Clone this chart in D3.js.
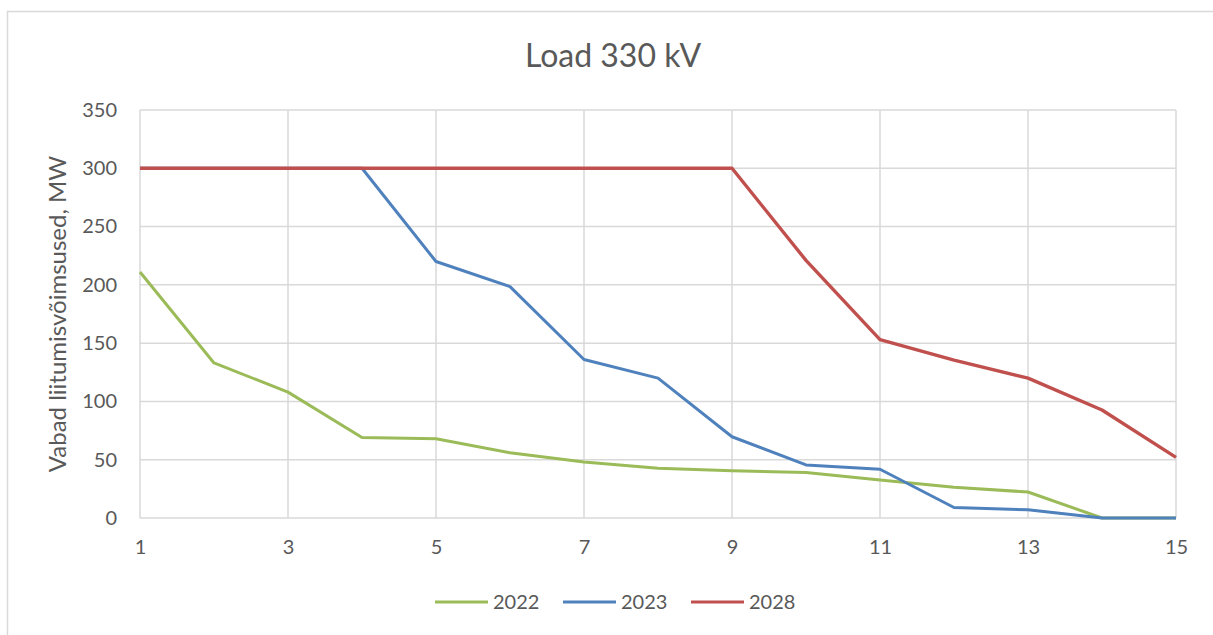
<!DOCTYPE html>
<html>
<head>
<meta charset="utf-8">
<script src="https://cdn.jsdelivr.net/npm/d3@7"></script>
<style>
  body { margin: 0; background: #fff; }
  svg text { font-family: Lato, "Open Sans", sans-serif; fill: #595959; }
</style>
</head>
<body>
<div id="chart"></div>
<script>
// x categories (1..15) and series values
const categories = [1, 2, 3, 4, 5, 6, 7, 8, 9, 10, 11, 12, 13, 14, 15];
const xTicks = [1, 3, 5, 7, 9, 11, 13, 15];
const yTicks = [0, 50, 100, 150, 200, 250, 300, 350];
const seriesNames = ["2022", "2023", "2028"];
const values2022 = [211, 133, 108, 69, 68, 56, 48, 42.6, 40.6, 39, 32.6, 26.3, 22.3, 0, 0];
const values2023 = [300, 300, 300, 300, 220, 198.5, 136, 120, 69.7, 45.5, 41.8, 9, 7, 0, 0];
const values2028 = [300, 300, 300, 300, 300, 300, 300, 300, 300, 221, 153, 135.5, 120, 92.6, 52];
const colors = ["#9bbb59", "#4f81bd", "#c0504d"];

const W = 1213, H = 635;
//plot area
const margin = {left: 140, right: 37, top: 110, bottom: 117};
const width = W - margin.left - margin.right;
const height = H - margin.top - margin.bottom;

const svg = d3.select("#chart")
    .append("svg")
    .attr("width", W)
    .attr("height", H);

//outer chart border
svg.append("rect")
    .attr("x", 7.5).attr("y", 11.5)
    .attr("width", W + 20).attr("height", H + 20)
    .attr("fill", "none")
    .attr("stroke", "#d9d9d9")
    .attr("stroke-width", 1.5);

const g = svg.append("g")
    .attr("transform", `translate(${margin.left},${margin.top})`);

const xScale = d3.scaleLinear().domain([1, 15]).range([0, width]);
const yScale = d3.scaleLinear().domain([0, 350]).range([height, 0]);

//gridlines
g.append("g")
    .selectAll("line")
    .data(yTicks)
    .join("line")
    .attr("x1", 0).attr("x2", width)
    .attr("y1", d => yScale(d)).attr("y2", d => yScale(d))
    .attr("stroke", "#d9d9d9")
    .attr("stroke-width", 1.5);

g.append("g")
    .selectAll("line")
    .data(xTicks)
    .join("line")
    .attr("x1", d => xScale(d)).attr("x2", d => xScale(d))
    .attr("y1", 0).attr("y2", height)
    .attr("stroke", "#d9d9d9")
    .attr("stroke-width", 1.5);

//axes (labels only)
const yAxis = g.append("g")
    .call(d3.axisLeft(yScale).tickValues(yTicks).tickSize(0).tickPadding(23));
yAxis.select(".domain").remove();
yAxis.selectAll("text")
    .style("font-size", "20px")
    .attr("font-family", null);

const xAxis = g.append("g")
    .attr("transform", `translate(0,${height})`)
    .call(d3.axisBottom(xScale).tickValues(xTicks).tickFormat(d3.format("d")).tickSize(0).tickPadding(22));
xAxis.select(".domain").remove();
xAxis.selectAll("text")
    .style("font-size", "20px")
    .attr("font-family", null);

//lines
const allSeries = [values2022, values2023, values2028];
const line = d3.line()
    .x((d, i) => xScale(categories[i]))
    .y(d => yScale(d));

allSeries.forEach((vals, i) => {
    g.append("path")
        .datum(vals)
        .attr("fill", "none")
        .attr("stroke", colors[i])
        .attr("stroke-width", i == 2 ? 3.4 : 3)
        .attr("stroke-linejoin", "round")
        .attr("d", line);
});

//title
svg.append("text")
    .attr("x", 613)
    .attr("y", 67)
    .attr("text-anchor", "middle")
    .style("font-size", "32px")
    .text("Load 330 kV");

//y axis title
svg.append("text")
    .attr("transform", "translate(66,314) rotate(-90)")
    .attr("text-anchor", "middle")
    .style("font-size", "24px")
    .text("Vabad liitumisvõimsused, MW");

//legend
const legend = svg.append("g")
    .attr("transform", "translate(435,602)");

seriesNames.forEach((name, i) => {
    const item = legend.append("g")
        .attr("transform", `translate(${i * 128},0)`);
    item.append("line")
        .attr("x1", 0).attr("x2", 53)
        .attr("y1", 0).attr("y2", 0)
        .attr("stroke", colors[i])
        .attr("stroke-width", 3);
    item.append("text")
        .attr("x", 58)
        .attr("y", 7)
        .style("font-size", "20px")
        .text(name);
});
</script>
</body>
</html>
